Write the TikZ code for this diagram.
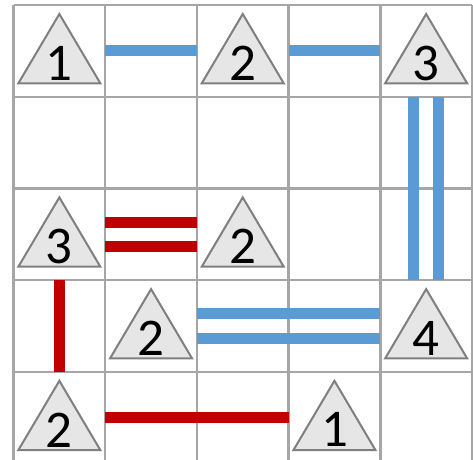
\documentclass[tikz,border=0pt]{standalone}
\usepackage{fontspec}
\newfontfamily\numfont{Carlito}
\definecolor{gridgray}{HTML}{A6A6A6}
\definecolor{trifill}{HTML}{E6E6E6}
\definecolor{tristroke}{HTML}{7F7F7F}
\definecolor{bblue}{HTML}{5B9BD5}
\definecolor{bred}{HTML}{C00000}
\tikzset{
  gridline/.style={draw=gridgray, line width=2.4pt},
  tri/.pic={\draw[fill=trifill, draw=tristroke, line width=2pt, line join=miter]
    (0,-36.85) -- (41,32.45) -- (-41,32.45) -- cycle;},
  island/.style={inner sep=0pt, yshift=-12.15pt,
    font=\numfont\fontsize{53}{53}\selectfont, text depth=0pt},
  bridge/.style={line width=11pt, shorten <=45.85pt, shorten >=45.85pt},
  bluebridge/.style={bridge, draw=bblue},
  redbridge/.style={bridge, draw=bred},
}
\begin{document}
\begin{tikzpicture}[x=1pt,y=-1pt]
\useasboundingbox (0,0) rectangle (473,459);
\clip (0,0) rectangle (473,459);
% cell centres
\foreach \i in {0,...,4}{
  \foreach \j in {0,...,4}{
    \coordinate (c\i\j) at ({59.35+91.7*\j},{50.85+91.7*\i});
  }
}
% grid
\foreach \k in {0,...,5}{
  \draw[gridline] (13.5,{5+91.7*\k}) -- (472,{5+91.7*\k});
  \draw[gridline] ({13.5+91.7*\k},5) -- ({13.5+91.7*\k},463.5);
}
% bridges
\draw[bluebridge] (c00) -- (c02);
\draw[bluebridge] (c02) -- (c04);
\draw[bluebridge, transform canvas={xshift=-12.25pt}] (c04) -- (c34);
\draw[bluebridge, transform canvas={xshift=12.25pt}] (c04) -- (c34);
\draw[redbridge, transform canvas={yshift=12.25pt}] (c20) -- (c22);
\draw[redbridge, transform canvas={yshift=-12.25pt}] (c20) -- (c22);
\draw[redbridge] (c20) -- (c40);
\draw[bluebridge, transform canvas={yshift=12.25pt}] (c31) -- (c34);
\draw[bluebridge, transform canvas={yshift=-12.25pt}] (c31) -- (c34);
\draw[redbridge] (c40) -- (c43);
% islands
\foreach \c in {00,02,04,20,22,31,34,40,43}{
  \pic at (c\c) {tri};
}
\node[island] (t00) at (c00) {1};
\node[island] (t02) at (c02) {2};
\node[island] (t04) at (c04) {3};
\node[island] (t20) at (c20) {3};
\node[island] (t22) at (c22) {2};
\node[island] (t31) at (c31) {2};
\node[island] (t34) at (c34) {4};
\node[island] (t40) at (c40) {2};
\node[island] (t43) at (c43) {1};
\end{tikzpicture}
\end{document}
